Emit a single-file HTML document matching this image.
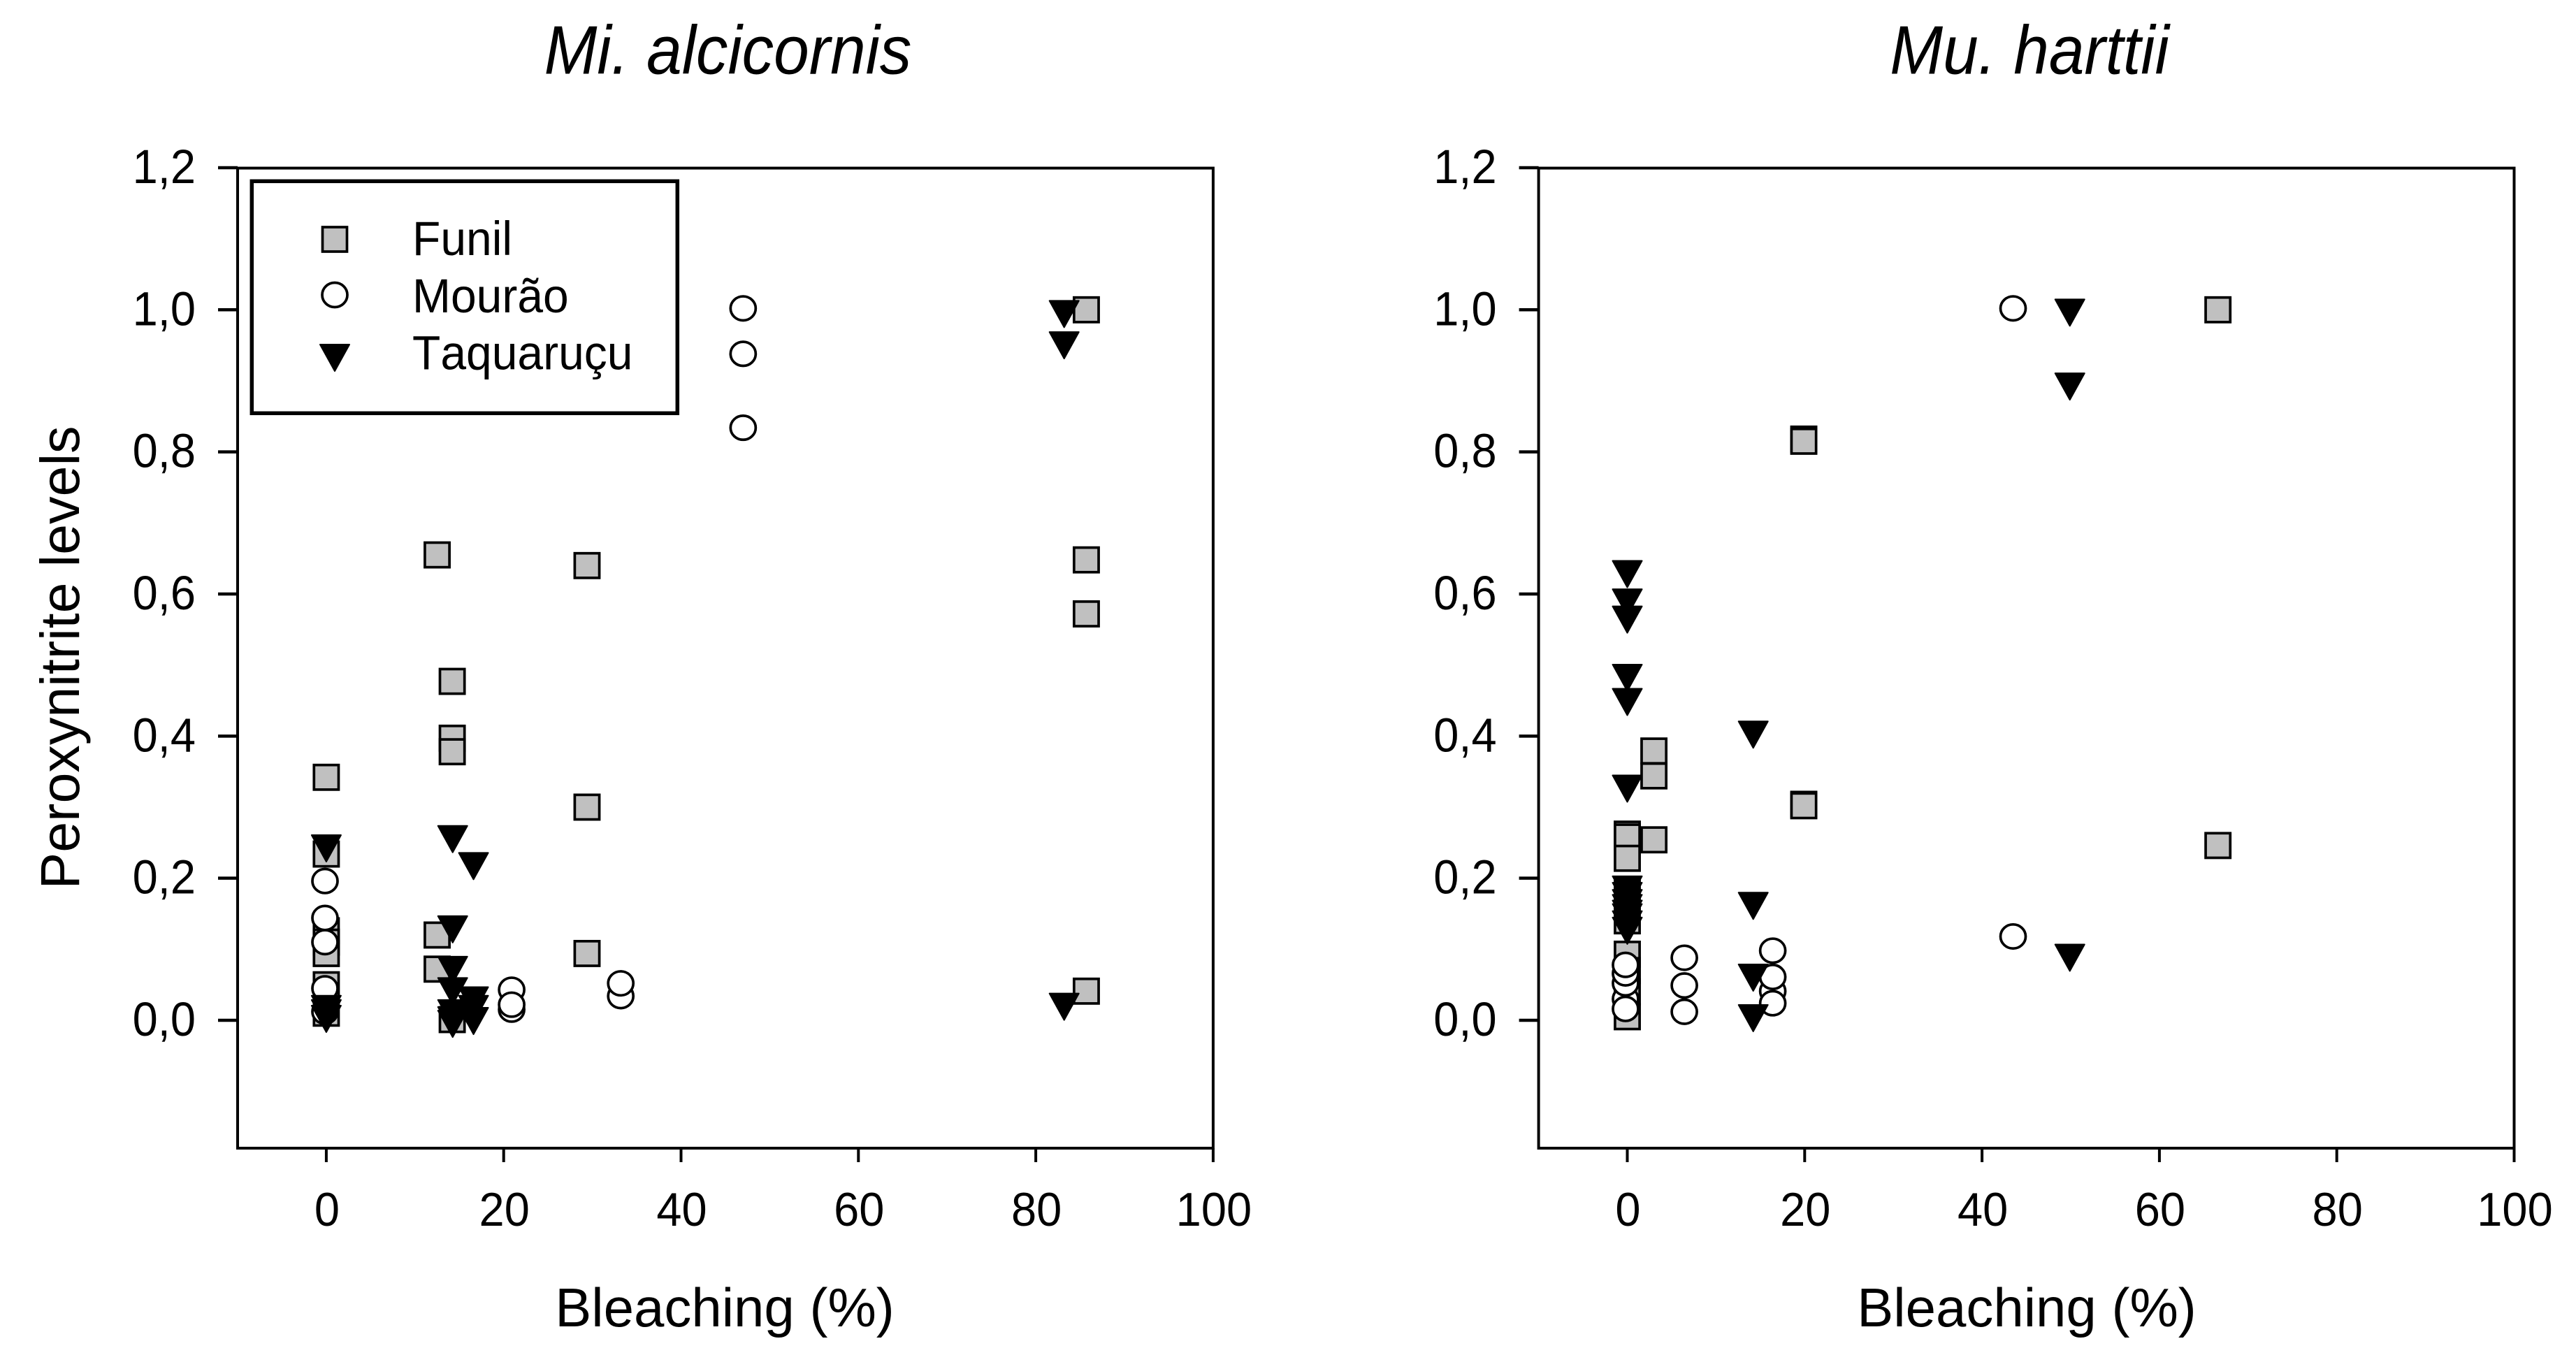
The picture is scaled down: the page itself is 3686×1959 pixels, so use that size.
<!DOCTYPE html>
<html lang="en">
<head>
<meta charset="utf-8">
<title>Peroxynitrite levels vs bleaching</title>
<style>
  html, body { margin: 0; padding: 0; background: #fff; }
  svg { display: block; }
  text { font-family: "Liberation Sans", Arial, sans-serif; fill: #000; }
</style>
</head>
<body>
<svg id="chart" xmlns="http://www.w3.org/2000/svg" width="3686" height="1959" viewBox="0 0 3686 1959">
  <rect x="0" y="0" width="3686" height="1959" fill="#fff"/>
  <text transform="translate(1041.5 105.5) scale(1 1.08)" font-size="91" font-style="italic" text-anchor="middle">Mi. alcicornis</text>
  <text transform="translate(2904 105.5) scale(1 1.08)" font-size="91" font-style="italic" text-anchor="middle">Mu. harttii</text>
  <text x="1037" y="1898" font-size="78" text-anchor="middle">Bleaching (%)</text>
  <text x="2900" y="1898" font-size="78" text-anchor="middle">Bleaching (%)</text>
  <text transform="translate(113 941) rotate(-90)" font-size="79" text-anchor="middle">Peroxynitrite levels</text>
  <g id="panel-left"></g>
  <g id="panel-right"></g>
  <g id="legend">
    <rect x="360.3" y="259.3" width="609" height="332" fill="#fff" stroke="#000" stroke-width="5.5"/>
    <rect x="461.5" y="325" width="35" height="35" fill="#c0c0c0" stroke="#000" stroke-width="3.7"/>
    <text transform="translate(590 365) scale(1 1.04)" font-size="66" style="font-kerning:none">Funil</text>
    <ellipse cx="479" cy="422" rx="18" ry="17.5" fill="#fff" stroke="#000" stroke-width="3.7"/>
    <text transform="translate(590 447) scale(1 1.04)" font-size="66" style="font-kerning:none">Mourão</text>
    <polygon points="458,493 500,493 479,531" fill="#000" stroke="#000" stroke-width="2" stroke-linejoin="round"/>
    <text transform="translate(590 528.5) scale(1 1.04)" font-size="66" style="font-kerning:none">Taquaruçu</text>
  </g>
</svg>
<script>
// Axis ticks
const xTickValues = [0, 20, 40, 60, 80, 100];
const yTickValues = [0, 0.2, 0.4, 0.6, 0.8, 1.0, 1.2];

// Mi. alcicornis
const miFunilX = [0, 0, 0, 0, 0, 0, 0, 14.2, 14.2, 14.2, 14.2, 12.5, 12.5, 12.5, 29.4, 29.4, 29.4, 85.7, 85.7, 85.7, 85.7];
const miFunilY = [0.342, 0.234, 0.126, 0.11, 0.094, 0.05, 0.01, 0.477, 0.397, 0.378, 0.001, 0.655, 0.12, 0.072, 0.64, 0.30, 0.094, 1.0, 0.648, 0.572, 0.041];
const miMouraoX = [-0.15, -0.15, -0.15, -0.15, -0.15, 20.9, 20.9, 20.9, 33.2, 33.2, 47, 47, 47];
const miMouraoY = [0.196, 0.144, 0.11, 0.045, 0.012, 0.043, 0.015, 0.022, 0.034, 0.052, 1.002, 0.938, 0.834];
const miTaquarucuX = [0, 0, 0, 0, 14.25, 14.25, 14.25, 14.25, 14.25, 14.25, 14.25, 16.6, 16.6, 16.6, 16.6, 83.2, 83.2, 83.2];
const miTaquarucuY = [0.242, 0.016, 0.01, 0.002, 0.255, 0.128, 0.071, 0.041, 0.01, 0.0, -0.005, 0.217, 0.028, 0.016, -0.001, 0.994, 0.95, 0.019];

// Mu. harttii
const muFunilX = [0, 0, 0, 0, 0, 0, 0, 0, 0, 3.0, 3.0, 3.0, 19.9, 19.9, 19.9, 19.9, 66.6, 66.6];
const muFunilY = [0.262, 0.258, 0.228, 0.18, 0.14, 0.093, 0.07, 0.04, 0.005, 0.379, 0.344, 0.254, 0.818, 0.815, 0.304, 0.302, 1.0, 0.246];
const muMouraoX = [-0.2, -0.2, -0.2, -0.2, -0.2, 6.43, 6.43, 6.43, 16.4, 16.4, 16.4, 16.4, 43.5, 43.5];
const muMouraoY = [0.03, 0.052, 0.066, 0.078, 0.016, 0.088, 0.049, 0.012, 0.041, 0.024, 0.061, 0.098, 1.002, 0.118];
const muTaquarucuX = [0, 0, 0, 0, 0, 0, 0, 0, 0, 0, 0, 0, 0, 0, 14.2, 14.2, 14.2, 14.2, 49.9, 49.9, 49.9];
const muTaquarucuY = [0.628, 0.588, 0.564, 0.482, 0.448, 0.326, 0.184, 0.175, 0.165, 0.158, 0.15, 0.145, 0.135, 0.126, 0.402, 0.161, 0.06, 0.003, 0.996, 0.892, 0.088];

const NS = 'http://www.w3.org/2000/svg';

function svgEl(tag, parent, attrs) {
  const el = document.createElementNS(NS, tag);
  for (const k in attrs) el.setAttribute(k, attrs[k]);
  parent.appendChild(el);
  return el;
}

function drawSquare(g, cx, cy) {
  const el = svgEl('rect', g, { x: cx - 17.6, y: cy - 17.6, width: 35.2, height: 35.2, fill: '#c0c0c0', stroke: '#000', 'stroke-width': 3.7 });
  
  
}

function drawCircle(g, cx, cy) {
  const el = svgEl('ellipse', g, { cx: cx, cy: cy, rx: 18, ry: 17.2, fill: '#fff', stroke: '#000', 'stroke-width': 3.7 });
  
  
}

function drawTriangle(g, cx, cy) {
  const pts = (cx - 21) + ',' + (cy - 19) + ' ' + (cx + 21) + ',' + (cy - 19) + ' ' + cx + ',' + (cy + 19);
  const el = svgEl('polygon', g, { points: pts, fill: '#000', stroke: '#000', 'stroke-width': 2, 'stroke-linejoin': 'round' });
  
  
}

function drawSeries(g, xs, ys, xScale, yScale, marker) {
  xs.forEach(function (x, i) {
    marker(g, xScale(x), yScale(ys[i]));
  });
}

function drawPanel(g, zeroX, funilX, funilY, mouraoX, mouraoY, taqX, taqY) {
  const pxPerX = 12.69;
  const pxPerY = 1016.7;
  const zeroY = 1460;
  const xScale = function (v) { return zeroX + v * pxPerX; };
  const yScale = function (v) { return zeroY - v * pxPerY; };
  const left = xScale(-10), right = xScale(100), top = yScale(1.2) + 0.6, bottom = 1643;

  const frame = svgEl('rect', g, { x: left, y: top, width: right - left, height: bottom - top, fill: 'none', stroke: '#000', 'stroke-width': 4 });
  
  

  xTickValues.forEach(function (v) {
    const tick = svgEl('line', g, { x1: xScale(v), x2: xScale(v), y1: bottom, y2: bottom + 20, stroke: '#000', 'stroke-width': 4 });
    
    
    const label = svgEl('text', g, { transform: 'translate(' + (xScale(v) + 1) + ' 1754) scale(1 1.04)', 'font-size': 65, 'text-anchor': 'middle' });
    label.textContent = String(v);
    
    
  });

  yTickValues.forEach(function (v) {
    const tick = svgEl('line', g, { x1: left - 28, x2: left, y1: yScale(v), y2: yScale(v), stroke: '#000', 'stroke-width': 4.5 });
    
    
    const label = svgEl('text', g, { transform: 'translate(' + (left - 60) + ' ' + (yScale(v) + 22) + ') scale(1 1.05)', 'font-size': 65, 'text-anchor': 'end' });
    label.textContent = v.toFixed(1).replace('.', ',');
    
    
  });

  drawSeries(g, funilX, funilY, xScale, yScale, drawSquare);
  drawSeries(g, mouraoX, mouraoY, xScale, yScale, drawCircle);
  drawSeries(g, taqX, taqY, xScale, yScale, drawTriangle);
}

drawPanel(document.getElementById('panel-left'), 466.9, miFunilX, miFunilY, miMouraoX, miMouraoY, miTaquarucuX, miTaquarucuY);
drawPanel(document.getElementById('panel-right'), 2328.5, muFunilX, muFunilY, muMouraoX, muMouraoY, muTaquarucuX, muTaquarucuY);
</script>
</body>
</html>
